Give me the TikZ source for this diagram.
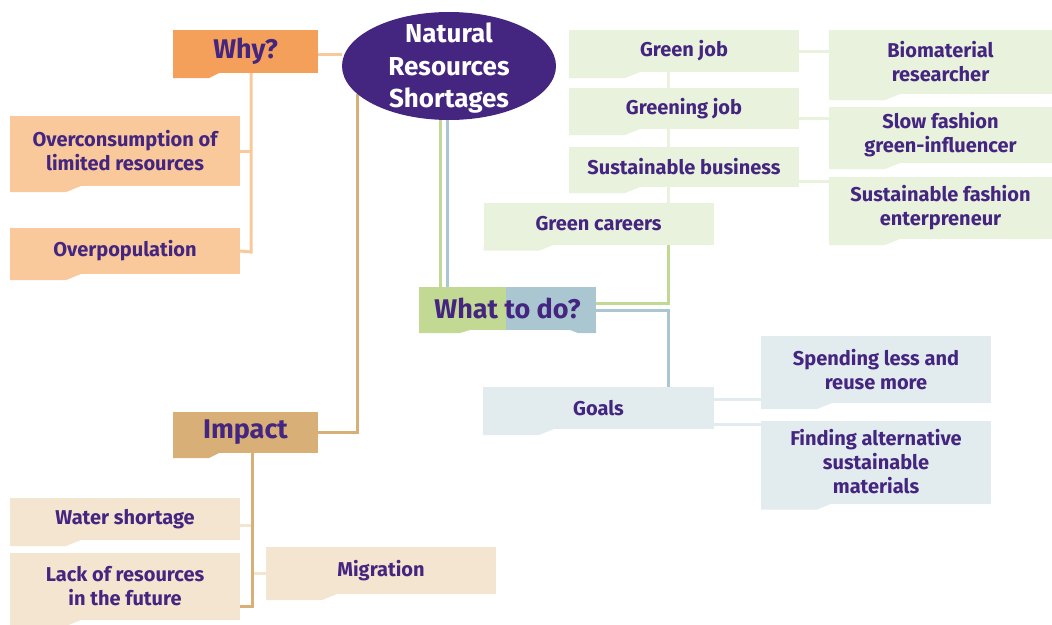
\documentclass[tikz,border=0pt]{standalone}
\usepackage{fontspec}
\setmainfont{Fira Sans}
\usetikzlibrary{shapes.geometric, backgrounds}

\definecolor{ink}{HTML}{44257F}
\definecolor{whyorange}{HTML}{F5A05A}
\definecolor{lightorange}{HTML}{F9C89B}
\definecolor{impacttan}{HTML}{D8B077}
\definecolor{sand}{HTML}{F3E5CF}
\definecolor{leaf}{HTML}{C2D993}
\definecolor{paleleaf}{HTML}{E8F2DC}
\definecolor{steel}{HTML}{A9C6D1}
\definecolor{palesteel}{HTML}{E2EBEE}

\begin{document}
\begin{tikzpicture}[x=1pt, y=-1pt,
    box/.style={inner sep=0pt, outer sep=0pt, align=center, text=ink,
      font=\bfseries\fontsize{20}{24}\selectfont},
    head/.style={box, font=\bfseries\fontsize{27}{30}\selectfont},
    tab/.style={append after command={\pgfextra{\fill[#1] (\tikzlastnode.south west)
      -- ++(0,6) -- ++(56,0) -- ++(15,-6) -- cycle;}}},
    smalltab/.style={append after command={\pgfextra{\fill[#1] (\tikzlastnode.south west)
      -- ++(0,5) -- ++(36,0) -- ++(10,-5) -- cycle;}}},
    link/.style={line width=3pt}]
  \useasboundingbox (0,0) rectangle (1052,624);

  % centre
  \node[ellipse, fill=ink, minimum width=214, minimum height=108, inner sep=0pt] (res) at (449,66) {};
  \node[text=white, align=center, font=\bfseries\fontsize{26}{32.5}\selectfont] (restext) at ([yshift=-2.5pt]res) {Natural\\Resources\\Shortages};

  % why
  \node[head, fill=whyorange, smalltab=whyorange, minimum width=145, minimum height=43] (why) at (245.5,51.5) {Why?};
  \node[box, fill=lightorange, tab=lightorange, minimum width=230, minimum height=70] (over) at (125,151) {Overconsumption of\\limited resources};
  \node[box, fill=lightorange, tab=lightorange, minimum width=230, minimum height=46] (overpop) at (125,251) {Overpopulation};

  % impact
  \node[head, fill=impacttan, smalltab=impacttan, minimum width=145, minimum height=41] (impact) at (245.5,432.5) {Impact};
  \node[box, fill=sand, tab=sand, minimum width=230, minimum height=42] (water) at (125,519) {Water shortage};
  \node[box, fill=sand, tab=sand, minimum width=230, minimum height=67] (lack) at (125,586.5) {Lack of resources\\in the future};
  \node[box, fill=sand, tab=sand, minimum width=230, minimum height=47] (migration) at (381,570.5) {Migration};

  % what to do
  \node[head, minimum width=177, minimum height=43, path picture={
      \fill[leaf] (path picture bounding box.south west) rectangle ([xshift=-2pt]path picture bounding box.north);
      \fill[steel] ([xshift=-2pt]path picture bounding box.north) rectangle (path picture bounding box.south east);}]
    (what) at (507.5,308.5) {What to do?};
  \fill[leaf] (what.south west) -- ++(0,3) -- ++(41,0) -- ++(10,-3) -- cycle;
  \fill[steel] (what.south east) -- ++(0,3) -- ++(-18,0) -- ++(-8,-3) -- cycle;

  \node[box, fill=paleleaf, tab=paleleaf, minimum width=230, minimum height=42] (careers) at (598.5,223.5) {Green careers};
  \node[box, fill=paleleaf, tab=paleleaf, minimum width=230, minimum height=42] (gjob) at (684,51) {Green job};
  \node[box, fill=paleleaf, tab=paleleaf, minimum width=230, minimum height=41] (greening) at (684,108.5) {Greening job};
  \node[box, fill=paleleaf, tab=paleleaf, minimum width=230, minimum height=40] (sbiz) at (684,167) {Sustainable business};
  \node[box, fill=paleleaf, tab=paleleaf, minimum width=223, minimum height=64] (bio) at (940.5,62) {Biomaterial\\researcher};
  \node[box, fill=paleleaf, tab=paleleaf, minimum width=223, minimum height=56] (slow) at (940.5,135) {Slow fashion\\green-influencer};
  \node[box, fill=paleleaf, tab=paleleaf, minimum width=223, minimum height=62] (sfash) at (940.5,208) {Sustainable fashion\\enterpreneur};

  \node[box, fill=palesteel, tab=palesteel, minimum width=231, minimum height=42] (goals) at (598.5,408) {Goals};
  \node[box, fill=palesteel, tab=palesteel, minimum width=230, minimum height=67] (spend) at (876,369.5) {Spending less and\\reuse more};
  \node[box, fill=palesteel, tab=palesteel, minimum width=230, minimum height=83] (find) at (876,462) {Finding alternative\\sustainable\\materials};

  \coordinate (wtrunk) at (251,252);
  \coordinate (itrunk) at (252,606);
  \coordinate (gtrunk) at (668,243);
  \coordinate (btrunk) at (668,387);

  \begin{scope}[on background layer]
    \draw[link, lightorange] ([yshift=-3pt]why.east) -- ([yshift=-3pt]why.east -| res.west);
    \draw[link, lightorange] (why.south -| wtrunk) -- (wtrunk) -- (overpop.east);
    \draw[link, lightorange] (over.east) -- (over.east -| wtrunk);

    \draw[link, impacttan] (impact.east) -| (res.197);
    \draw[link, sand] ([yshift=-6pt]water.east) -- ([yshift=-6pt]water.east -| itrunk);
    \draw[link, sand] ([yshift=-3pt]migration.west) -- ([yshift=-3pt]migration.west -| itrunk);
    \draw[link, impacttan] (impact.south -| itrunk) -- (itrunk) -- (itrunk -| lack.east);

    \draw[link, leaf] ([xshift=-9pt]res.south) -- ([xshift=-9pt]res.south |- what.north);
    \draw[link, steel] ([xshift=-2pt]res.south) -- ([xshift=-2pt]res.south |- what.north);

    \draw[link, leaf] ([yshift=5pt]what.east) -| (gtrunk);
    \draw[link, paleleaf] (gtrunk) -- (gtrunk |- gjob.south);
    \draw[link, paleleaf] (gjob.east) -- (gjob.east -| bio.west);
    \draw[link, paleleaf] ([yshift=-10pt]greening.east) -- ([yshift=-10pt]greening.east -| slow.west);
    \draw[link, paleleaf] ([yshift=-14pt]sbiz.east) -- ([yshift=-14pt]sbiz.east -| sfash.west);

    \draw[link, steel] ([yshift=-2pt]what.east) -| (btrunk);
    \draw[link, palesteel] ([yshift=9pt]goals.east) -- ([yshift=9pt]goals.east -| spend.west);
    \draw[link, palesteel] ([yshift=-16pt]goals.east) -- ([yshift=-16pt]goals.east -| find.west);
  \end{scope}
\end{tikzpicture}
\end{document}
